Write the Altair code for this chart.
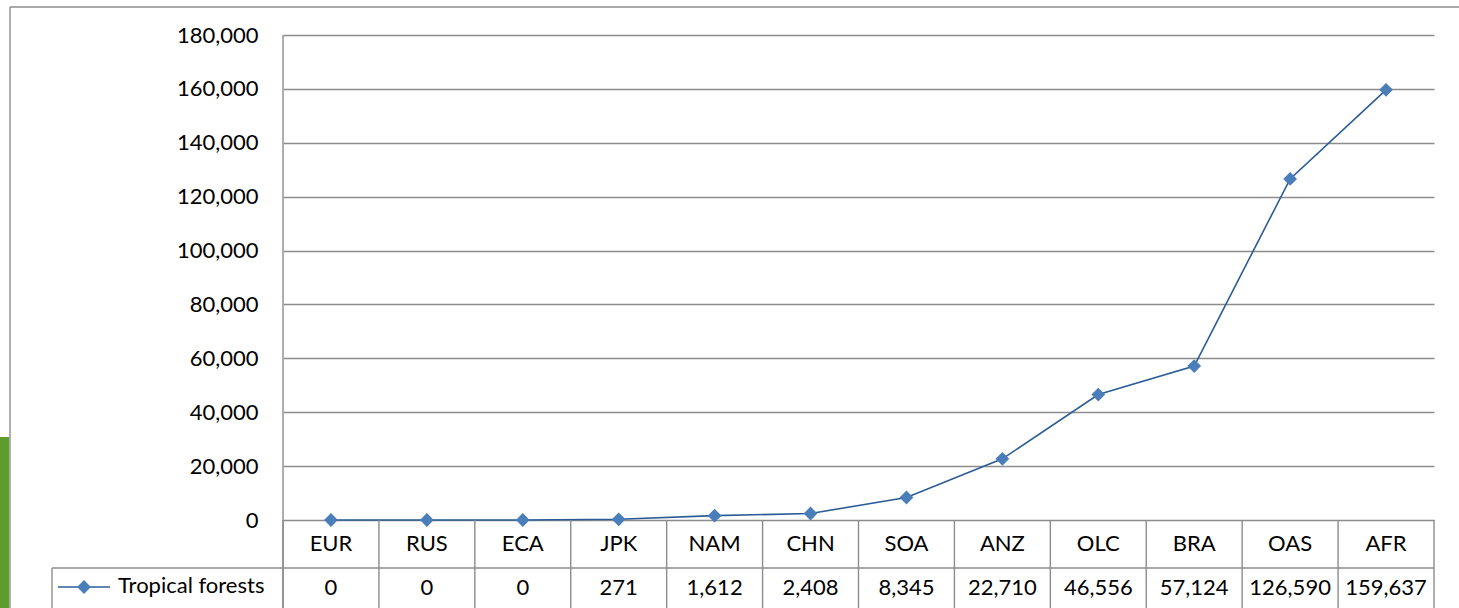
import altair as alt
import pandas as pd

cats = ["EUR", "RUS", "ECA", "JPK", "NAM", "CHN", "SOA", "ANZ", "OLC", "BRA", "OAS", "AFR"]
values = [0, 0, 0, 271, 1612, 2408, 8345, 22710, 46556, 57124, 126590, 159637]
series_name = "Tropical forests"
y_ticks = list(range(0, 180001, 20000))

df = pd.DataFrame({"cat": cats, "value": values})
one = pd.DataFrame({"k": [0]})

FONT = "Lato"
FS = 22
GRID = "#8c8c8c"
LINE = "#2C5C97"
MARK = "#4A7EBB"

W, H = 1151, 485

xs = alt.Scale(type="band", domain=cats, paddingInner=0, paddingOuter=0)
ys = alt.Scale(domain=[0, 180000])

base = alt.Chart(df)

line = base.mark_line(color=LINE, strokeWidth=1.6).encode(
    x=alt.X("cat:N", sort=cats, scale=xs, bandPosition=0.5, axis=None),
    y=alt.Y("value:Q", scale=ys, axis=alt.Axis(
        values=y_ticks, format=",.0f", labelFont=FONT, labelFontSize=FS,
        labelColor="black", ticks=False, domain=False, grid=True,
        gridColor=GRID, gridWidth=1.4, labelPadding=25, title=None)),
)
pts = base.mark_point(shape="diamond", filled=True, size=190, color=MARK, opacity=1).encode(
    x=alt.X("cat:N", sort=cats, scale=xs, bandPosition=0.5, axis=None),
    y=alt.Y("value:Q", scale=ys),
)

# data table borders
vlines = base.mark_rule(color=GRID, strokeWidth=1.4).encode(
    x=alt.X("cat:N", sort=cats, scale=xs, bandPosition=0, axis=None),
    y=alt.value(H), y2=alt.value(H + 90),
)
right_border = alt.Chart(one).mark_rule(color=GRID, strokeWidth=1.4).encode(
    x=alt.value(W), y=alt.value(H), y2=alt.value(H + 90))
left_axis = alt.Chart(one).mark_rule(color=GRID, strokeWidth=1.4).encode(
    x=alt.value(0), y=alt.value(0), y2=alt.value(H + 90))
mid_row = alt.Chart(one).mark_rule(color=GRID, strokeWidth=1.4).encode(
    x=alt.value(-231), x2=alt.value(W), y=alt.value(H + 48))
legend_left = alt.Chart(one).mark_rule(color=GRID, strokeWidth=1.4).encode(
    x=alt.value(-231), y=alt.value(H + 48), y2=alt.value(H + 90))

# outer frame
frame_top = alt.Chart(one).mark_rule(color=GRID, strokeWidth=1.4).encode(
    x=alt.value(-273), x2=alt.value(W + 30), y=alt.value(-28))
frame_left = alt.Chart(one).mark_rule(color=GRID, strokeWidth=1.4).encode(
    x=alt.value(-273), y=alt.value(-28), y2=alt.value(H + 90))
green = alt.Chart(one).mark_rect(color="#5E9C2C").encode(
    x=alt.value(-283), x2=alt.value(-274), y=alt.value(402), y2=alt.value(H + 90))

cat_text = base.mark_text(font=FONT, fontSize=FS, color="black", baseline="middle").encode(
    x=alt.X("cat:N", sort=cats, scale=xs, bandPosition=0.5, axis=None),
    y=alt.value(H + 24),
    text="cat:N",
)
val_text = base.mark_text(font=FONT, fontSize=FS, color="black", baseline="middle").encode(
    x=alt.X("cat:N", sort=cats, scale=xs, bandPosition=0.5, axis=None),
    y=alt.value(H + 68),
    text=alt.Text("value:Q", format=",.0f"),
)

leg_line = alt.Chart(one).mark_rule(color=LINE, strokeWidth=1.6).encode(
    x=alt.value(-225), x2=alt.value(-173), y=alt.value(H + 67))
leg_pt = alt.Chart(one).mark_point(shape="diamond", filled=True, size=190, color=MARK, opacity=1).encode(
    x=alt.value(-199), y=alt.value(H + 67))
leg_text = alt.Chart(one).mark_text(font=FONT, fontSize=FS, color="black", align="left",
                                    baseline="middle").encode(
    x=alt.value(-165), y=alt.value(H + 66), text=alt.value(series_name))

chart = alt.layer(
    line, green, frame_top, frame_left, vlines, right_border, left_axis, mid_row, legend_left,
    pts, cat_text, val_text, leg_line, leg_pt, leg_text,
).properties(
    width=W, height=H,
    padding={"left": 283, "top": 35, "right": 25, "bottom": 88},
    autosize=alt.AutoSizeParams(type="none"),
    background="white",
).configure_view(stroke=None)

chart.save("out.html", embed_options={"renderer": "svg", "actions": False})
